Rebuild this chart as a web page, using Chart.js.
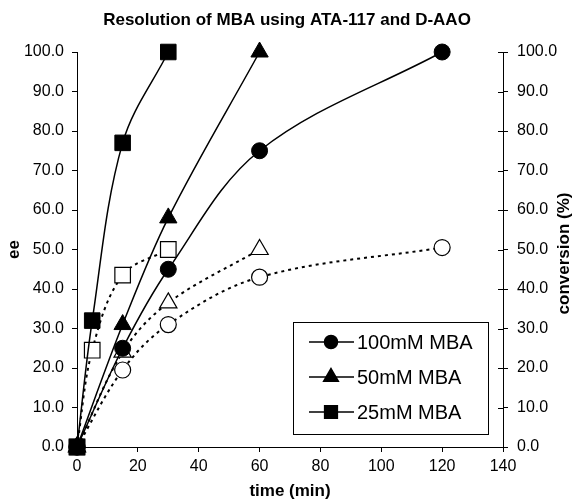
<!DOCTYPE html>
<html><head><meta charset="utf-8">
<script src="https://cdn.jsdelivr.net/npm/chart.js@4.4.0/dist/chart.umd.min.js"></script>
<style>html,body{margin:0;padding:0;background:#fff;}</style>
</head><body>
<canvas id="c" width="574" height="502"></canvas>
<script>
const chartTitle = 'Resolution of MBA using ATA-117 and D-AAO';
const xTitle = 'time (min)';
const yLeftTitle = 'ee';
const yRightTitle = 'conversion (%)';
const seriesNames = ['100mM MBA', '50mM MBA', '25mM MBA'];
const times100 = [0, 15, 30, 60, 120];
const times50 = [0, 15, 30, 60];
const times25 = [0, 5, 15, 30];
const ee100 = [0, 25, 45, 75, 100];
const ee50 = [0, 31, 58, 100];
const ee25 = [0, 32, 77, 100];
const conv100 = [0, 19.5, 31, 43, 50.5];
const conv50 = [0, 24, 36.5, 50];
const conv25 = [0, 24.5, 43.5, 50];

const FONT = "'Liberation Sans', Arial, sans-serif";
const pts = (xs, ys) => xs.map((x, i) => ({x: x, y: ys[i]}));

const styles = [
  {shape: 'circle', r: 8, lr: 6.5},
  {shape: 'triangle', r: 10, lr: 8.5},
  {shape: 'rect', r: 11, lr: 9}
];

function eeSet(i, xs, ys) {
  return {
    label: seriesNames[i], data: pts(xs, ys), yAxisID: 'y',
    borderColor: '#000', borderWidth: 1.5, tension: 0.35,
    pointStyle: styles[i].shape, pointRadius: styles[i].r,
    pointBackgroundColor: '#000', pointBorderColor: '#000', pointBorderWidth: 1,
    clip: false, showLegend: true, legendRadius: styles[i].lr
  };
}
function convSet(i, xs, ys) {
  return {
    label: seriesNames[i] + ' conversion', data: pts(xs, ys), yAxisID: 'y2',
    borderColor: '#000', borderWidth: 2, borderDash: [3, 4], tension: 0.35,
    pointStyle: styles[i].shape, pointRadius: styles[i].r,
    pointBackgroundColor: '#fff', pointBorderColor: '#000', pointBorderWidth: 1.2,
    clip: false, showLegend: false
  };
}

const datasets = [
  eeSet(0, times100, ee100), eeSet(1, times50, ee50), eeSet(2, times25, ee25),
  convSet(0, times100, conv100), convSet(1, times50, conv50), convSet(2, times25, conv25)
];

const extras = {
  id: 'extras',
  afterDraw(chart) {
    const ctx = chart.ctx;
    const y2 = chart.scales.y2;
    ctx.save();
    ctx.strokeStyle = '#000';
    ctx.lineWidth = 1;
    y2.ticks.forEach(t => {
      const py = Math.round(y2.getPixelForValue(t.value)) + 0.5;
      ctx.beginPath();
      ctx.moveTo(y2.left - 5, py);
      ctx.lineTo(y2.left, py);
      ctx.stroke();
    });
    ctx.fillStyle = '#000';
    ctx.font = "bold 17px " + FONT;
    ctx.textAlign = 'center';
    ctx.textBaseline = 'middle';
    ctx.translate(564, (chart.chartArea.top + chart.chartArea.bottom) / 2 + 4);
    ctx.rotate(-Math.PI / 2);
    ctx.fillText(yRightTitle, 0, 0);
    ctx.restore();

    ctx.save();
    const bx = 293.5, by = 322.5, bw = 195, bh = 112;
    ctx.fillStyle = '#fff';
    ctx.fillRect(bx, by, bw, bh);
    ctx.strokeStyle = '#000';
    ctx.lineWidth = 1;
    ctx.strokeRect(bx, by, bw, bh);
    const rows = [342, 377, 412];
    chart.data.datasets.filter(d => d.showLegend).forEach((d, i) => {
      const y = rows[i];
      ctx.beginPath();
      ctx.strokeStyle = '#000';
      ctx.lineWidth = 1.5;
      ctx.moveTo(309, y);
      ctx.lineTo(354, y);
      ctx.stroke();
      ctx.fillStyle = '#000';
      Chart.helpers.drawPoint(ctx, {pointStyle: d.pointStyle, radius: d.legendRadius, borderWidth: 1}, 331, y);
      ctx.fill();
      ctx.font = "20px " + FONT;
      ctx.textAlign = 'left';
      ctx.textBaseline = 'middle';
      ctx.fillText(d.label, 357, y + 1);
    });
    ctx.restore();
  }
};

new Chart(document.getElementById('c'), {
  type: 'line',
  data: {datasets: datasets},
  plugins: [extras],
  options: {
    responsive: false,
    animation: false,
    events: [],
    layout: {padding: 0},
    plugins: {
      legend: {display: false},
      tooltip: {enabled: false},
      title: {
        display: true, text: chartTitle, color: '#000',
        font: {family: FONT, size: 17, weight: 'bold', lineHeight: 1.2},
        padding: {top: 10, bottom: 21.6}
      }
    },
    scales: {
      x: {
        type: 'linear', min: 0, max: 140,
        afterFit(s) { s.height = 55; },
        afterBuildTicks(s) { s.ticks = [0,20,40,60,80,100,120,140].map(v => ({value: v})); },
        ticks: {color: '#000', font: {family: FONT, size: 16}, padding: 5, maxRotation: 0,
          callback: v => String(v)},
        grid: {display: true, drawOnChartArea: false, color: '#000', tickLength: 5, lineWidth: 1},
        border: {display: true, color: '#000', width: 1},
        title: {display: true, text: xTitle, color: '#000',
          font: {family: FONT, size: 17, weight: 'bold', lineHeight: 1.2}, padding: {top: 0, bottom: 0}}
      },
      y: {
        type: 'linear', position: 'left', min: 0, max: 100,
        afterFit(s) { s.width = 77; },
        ticks: {stepSize: 10, color: '#000', font: {family: FONT, size: 16}, padding: 8,
          callback: v => Number(v).toFixed(1)},
        grid: {display: true, drawOnChartArea: false, color: '#000', tickLength: 5, lineWidth: 1},
        border: {display: true, color: '#000', width: 1},
        title: {display: true, text: yLeftTitle, color: '#000',
          font: {family: FONT, size: 17, weight: 'bold', lineHeight: 1.2}, padding: {top: 4, bottom: 0}}
      },
      y2: {
        type: 'linear', position: 'right', min: 0, max: 100,
        afterFit(s) { s.width = 71; },
        ticks: {stepSize: 10, color: '#000', font: {family: FONT, size: 16}, padding: 9,
          callback: v => Number(v).toFixed(1)},
        grid: {display: true, drawOnChartArea: false, color: '#000', tickLength: 5, lineWidth: 1},
        border: {display: true, color: '#000', width: 1, dash: [8, 4]},
        title: {display: false}
      }
    }
  }
});
</script>
</body></html>
